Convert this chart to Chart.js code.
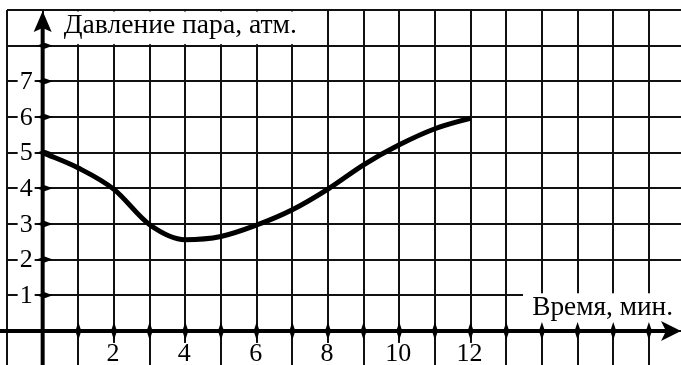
<!DOCTYPE html>
<html>
<head>
<meta charset="utf-8">
<script src="https://cdn.jsdelivr.net/npm/chart.js@4"></script>
<style>
  html, body { margin: 0; padding: 0; background: #fff; }
</style>
</head>
<body>
<canvas id="chart" width="681" height="365"></canvas>
<script>
const times = [0, 1, 2, 3, 4, 5, 6, 7, 8, 9, 10, 11, 12];
const pressure = [5, 4.57, 3.97, 2.98, 2.56, 2.65, 2.97, 3.4, 3.98, 4.66, 5.22, 5.67, 5.97];
const xTickLabels = [2, 4, 6, 8, 10, 12];
const yTickLabels = [1, 2, 3, 4, 5, 6, 7];
const yTitle = 'Давление пара, атм.';
const xTitle = 'Время, мин.';

const SERIF = '"Liberation Serif", "Times New Roman", serif';

function fitSize(ctx, text, width) {
  ctx.font = '100px ' + SERIF;
  return 100 * width / ctx.measureText(text).width;
}

function lens(ctx, cx, cy, rx, ry) {
  ctx.beginPath();
  ctx.moveTo(cx - rx, cy);
  ctx.lineTo(cx, cy - ry);
  ctx.lineTo(cx + rx, cy);
  ctx.lineTo(cx, cy + ry);
  ctx.closePath();
  ctx.fill();
}

const paperPlugin = {
  id: 'paper',
  afterDraw(chart) {
    const { ctx, scales: { x, y } } = chart;
    const W = chart.width, H = chart.height;
    const x0 = x.getPixelForValue(0), y0 = y.getPixelForValue(0);
    ctx.save();

    // white box behind the y title
    const top = y.getPixelForValue(9), row8 = y.getPixelForValue(8);
    ctx.fillStyle = '#fff';
    ctx.fillRect(x0 + 3, top + 1.5, x.getPixelForValue(8) - x0 - 5, row8 - top - 3);
    // white box behind the x title
    const row1 = y.getPixelForValue(1);
    const bx = x.getPixelForValue(13.47);
    ctx.fillRect(bx, row1 - 2, W - bx, y0 - row1 - 1);

    // titles
    ctx.fillStyle = '#000';
    ctx.textBaseline = 'alphabetic';
    ctx.textAlign = 'left';
    ctx.font = fitSize(ctx, yTitle, 233).toFixed(1) + 'px ' + SERIF;
    ctx.fillText(yTitle, x0 + 21, top + 23);
    ctx.textAlign = 'right';
    ctx.font = fitSize(ctx, xTitle, 141).toFixed(1) + 'px ' + SERIF;
    ctx.fillText(xTitle, W - 8, y0 - 16);

    // axes
    ctx.strokeStyle = '#000';
    ctx.lineWidth = 4;
    ctx.beginPath();
    ctx.moveTo(x0, H);
    ctx.lineTo(x0, top + 15);
    ctx.moveTo(0, y0);
    ctx.lineTo(W - 12, y0);
    ctx.stroke();
    ctx.beginPath();
    ctx.moveTo(x0, top + 1);
    ctx.lineTo(x0 + 9, top + 22);
    ctx.lineTo(x0, top + 18);
    ctx.lineTo(x0 - 9, top + 22);
    ctx.closePath();
    ctx.fill();
    ctx.beginPath();
    ctx.moveTo(W, y0);
    ctx.lineTo(W - 20, y0 - 10);
    ctx.lineTo(W - 15, y0);
    ctx.lineTo(W - 20, y0 + 10);
    ctx.closePath();
    ctx.fill();

    // tick marks
    for (let v = 1; v <= 17; v++) lens(ctx, x.getPixelForValue(v), y0, 3, 9);
    for (let v = 1; v <= 8; v++) lens(ctx, x0 + 2, y.getPixelForValue(v), 8, 3);

    // tick labels with white backdrops
    ctx.font = '26px ' + SERIF;
    ctx.textBaseline = 'middle';
    ctx.textAlign = 'right';
    yTickLabels.forEach(v => {
      const py = y.getPixelForValue(v);
      const w = ctx.measureText(String(v)).width;
      ctx.fillStyle = '#fff';
      ctx.fillRect(x0 - 12 - w, py - 10, w + 4, 20);
      ctx.fillStyle = '#000';
      ctx.fillText(String(v), x0 - 10, py + 1);
    });
    ctx.textAlign = 'center';
    xTickLabels.forEach(v => {
      const px = x.getPixelForValue(v);
      const w = ctx.measureText(String(v)).width;
      ctx.fillStyle = '#fff';
      ctx.fillRect(px - w / 2 - 2, y0 + 12, w + 4, 22);
      ctx.fillStyle = '#000';
      ctx.fillText(String(v), px - 1, y0 + 23);
    });

    ctx.restore();
  }
};

const gridOpts = { color: '#111', lineWidth: 2, drawTicks: false };

new Chart(document.getElementById('chart'), {
  type: 'line',
  data: {
    datasets: [{
      data: times.map((t, i) => ({ x: t, y: pressure[i] })),
      borderColor: '#000',
      borderWidth: 5,
      pointRadius: 0,
      fill: false,
      cubicInterpolationMode: 'monotone'
    }]
  },
  options: {
    responsive: false,
    animation: false,
    layout: { padding: { left: 7, top: 10, right: 0, bottom: 0 } },
    plugins: { legend: { display: false }, tooltip: { enabled: false } },
    scales: {
      x: {
        type: 'linear', min: -1, max: 17.9,
        ticks: { display: false, stepSize: 1, includeBounds: false },
        grid: gridOpts,
        border: { display: false }
      },
      y: {
        type: 'linear', min: -0.955, max: 9,
        ticks: { display: false, stepSize: 1, includeBounds: false },
        grid: gridOpts,
        border: { display: false }
      }
    }
  },
  plugins: [paperPlugin]
});
</script>
</body>
</html>
